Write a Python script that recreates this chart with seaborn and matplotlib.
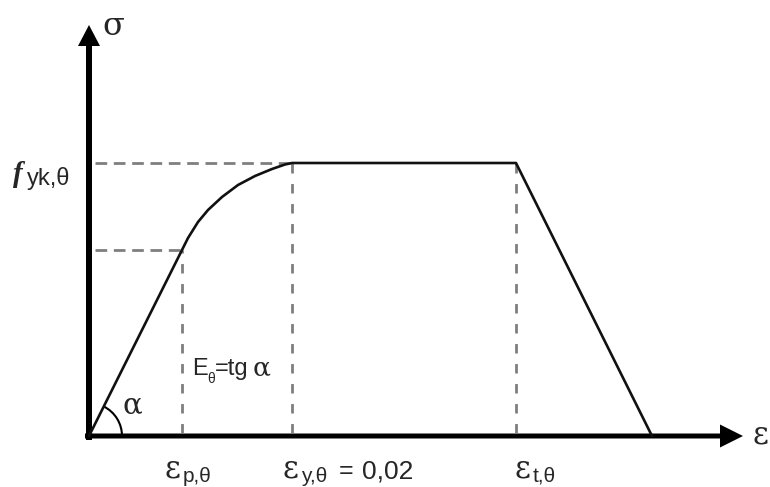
import numpy as np
import matplotlib
matplotlib.use("Agg")
import matplotlib.pyplot as plt
import pandas as pd
import seaborn as sns
from matplotlib.patches import Arc

# schematic stress-strain curve of steel at temperature theta (arbitrary units)
eps_p = 93      # proportional limit strain
eps_y = 203     # yield strain (0,02)
eps_t = 427     # end of plateau
eps_u = 563     # ultimate strain
f_p = 186       # proportional limit
f_y = 273       # effective yield strength

strain = [0, eps_p, 99, 109, 119, 133, 149, 166, 183, 196, eps_y, eps_t, eps_u]
stress = [0, f_p, 198, 214, 226, 239, 251, 260, 267, 271.5, f_y, f_y, 0]

df = pd.DataFrame({"strain": strain, "stress": stress})

sns.set_style("white")
fig = plt.figure(figsize=(7.7, 4.87), dpi=100)
ax = fig.add_axes([0, 0, 1, 1])
ax.set_xlim(-89, 681)
ax.set_ylim(-51, 436)
ax.set_aspect("equal")
ax.axis("off")

gray = "#7f7f7f"
# helper lines
ax.plot([6, eps_y], [f_y, f_y], color=gray, lw=2, dashes=(4.2, 2.4))
ax.plot([6, eps_p], [f_p, f_p], color=gray, lw=2, dashes=(4.2, 2.4))
for e, s in [(eps_p, f_p), (eps_y, f_y), (eps_t, f_y)]:
    ax.plot([e, e], [3, s], color=gray, lw=2, dashes=(3.4, 3.8))

sns.lineplot(data=df, x="strain", y="stress", sort=False, estimator=None,
             color="#111111", lw=1.9, ax=ax)

# axes with arrows
ax.arrow(0, -4, 0, 415, width=6, head_width=22, head_length=21,
         length_includes_head=True, fc="black", ec="none")
ax.arrow(-4, 0, 658, 0, width=5, head_width=23, head_length=23,
         length_includes_head=True, fc="black", ec="none")

# angle alpha
ax.add_patch(Arc((0, 0), 66, 66, theta1=0, theta2=np.degrees(np.arctan2(f_p, eps_p)),
                 color="black", lw=1.5))

greek = "DejaVu Serif"
sans = "Liberation Sans"

ax.text(13, 401, "σ", fontsize=23, family=greek, va="baseline")
ax.text(663, -8, "ε", fontsize=22, family=greek, va="baseline")
ax.text(-76, 254, "f", fontsize=21, family="Liberation Serif", style="italic",
        weight="bold", va="baseline")
ax.text(-62, 251, "yk,θ", fontsize=17, family=sans, va="baseline")
ax.text(34, 23, "α", fontsize=21, family=greek, va="baseline")

ax.text(103, 61, "E", fontsize=17, family=sans, va="baseline")
ax.text(118, 53, "θ", fontsize=10, family=sans, va="baseline")
ax.text(126, 61, "=tg", fontsize=17, family=sans, va="baseline")
ax.text(164, 61, "α", fontsize=19, family=greek, va="baseline")

for x0, sub in [(76, "p,θ"), (194, "y,θ"), (426, "t,θ")]:
    ax.text(x0, -41, "ε", fontsize=22, family=greek, va="baseline")
    ax.text(x0 + 18, -46, sub, fontsize=15, family=sans, va="baseline")
ax.text(250, -42, "=", fontsize=18, family=sans, va="baseline")
ax.text(273, -42, "0,02", fontsize=19, family=sans, va="baseline")

fig.savefig("out.png", dpi=100)
